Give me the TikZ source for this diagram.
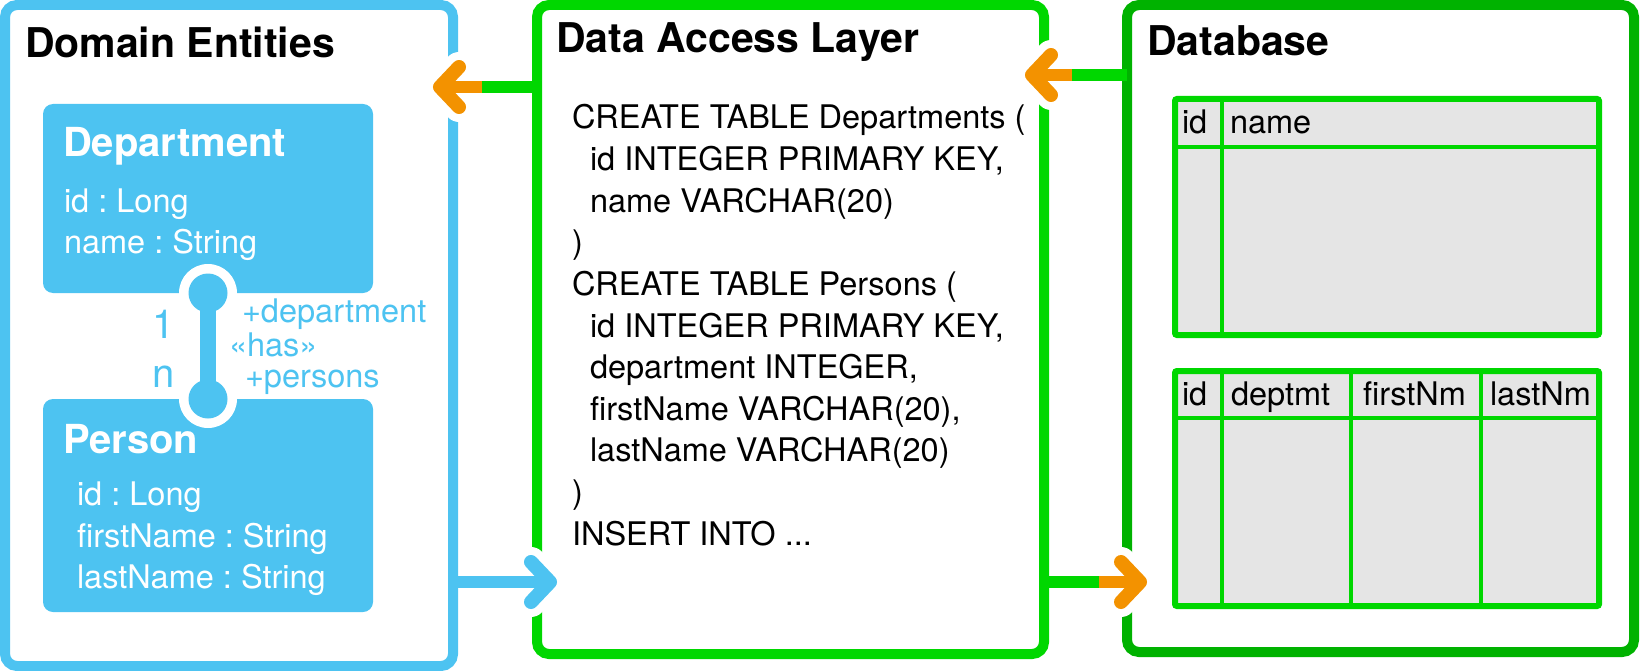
\documentclass[tikz,border=0pt]{standalone}
\usepackage{fontspec}
\setmainfont{TeX Gyre Heros}
\frenchspacing
\usetikzlibrary{positioning,calc}
\definecolor{entblue}{HTML}{4DC3F1}
\definecolor{dalgreen}{HTML}{00D700}
\definecolor{dbgreen}{HTML}{00B200}
\definecolor{flowor}{HTML}{F39200}
\definecolor{cellgray}{HTML}{E5E5E5}
\tikzset{
  every node/.style={
    inner sep=0pt,
    outer sep=0pt,
    anchor=base west,
  },
  panel/.style={draw, line width=10pt, rounded corners=12pt, anchor=north west},
  entity/.style={fill=entblue, rounded corners=10pt, anchor=north west,
    minimum width=330pt, minimum height=#1},
  dbtable/.style={draw=dalgreen, fill=cellgray, line width=6pt, rounded corners=2pt,
    anchor=north west, minimum width=424pt, minimum height=#1},
  cellline/.style={dalgreen, line width=4pt},
  title/.style={font=\fontsize{41}{48}\selectfont\bfseries},
  entname/.style={text=white, font=\fontsize{40}{46}\selectfont\bfseries},
  attr/.style={text=white, font=\fontsize{32.5}{40}\selectfont},
  role/.style={text=entblue, font=\fontsize{32.5}{40}\selectfont},
  mult/.style={text=entblue, font=\fontsize{40}{48}\selectfont, anchor=base},
  code/.style={font=\fontsize{32.5}{40}\selectfont},
  shaft/.style={line width=12pt},
  halo/.style={white, line width=30pt, line cap=round, line join=round},
  chev/.style={line width=14pt, line cap=round, line join=round},
}

\begin{document}
\begin{tikzpicture}[x=1pt, y=-1pt]
  \useasboundingbox (0,0) rectangle (1640,671);

  \node[panel, draw=entblue, minimum width=448pt, minimum height=661pt] (dom) at (5,5) {};
  \node[panel, draw=dalgreen, minimum width=507pt, minimum height=649pt] (dal) at (537,5) {};
  \node[panel, draw=dbgreen, minimum width=507pt, minimum height=647pt] (db) at (1127,5) {};

  \node[title] (domT) at (25,58) {Domain Entities};
  \node[title] (dalT) at (556,53) {Data Access Layer};
  \node[title] (dbT) at (1147,56) {Database};

  \node[entity=189pt] (dept) at (43,104) {};
  \node[entity=213pt] (pers) at (43,399) {};
  \node[entname] (deptN) at (63,157) {Department};
  \node[attr] (deptId) at (64,212) {id : Long};
  \node[attr] (deptName) at (64,253) {name : String};
  \node[entname] (persN) at (63,453) {Person};
  \node[attr] (persId) at (77,505) {id : Long};
  \node[attr] (persFirst) at (77,547) {firstName : String};
  \node[attr] (persLast) at (77,588) {lastName : String};

  \fill[white] (dept.south) circle (29pt) (pers.north) circle (29pt);
  \draw[entblue, line width=16pt] (dept.south) -- (pers.north);
  \fill[entblue] (dept.south) circle (19.5pt) (pers.north) circle (19.5pt);
  \node[mult] (one) at (164,338) {1};
  \node[mult] (many) at (164,387) {n};
  \node[role] (roleDept) at (242,322) {+department};
  \node[role] (roleHas) at (229,356) {«has»};
  \node[role] (rolePers) at (245,387) {+persons};

  \foreach \dx/\txt [count=\i from 0] in {0/{CREATE TABLE Departments (},
      18/{id INTEGER PRIMARY KEY,}, 18/{name VARCHAR(20)}, 0/{)},
      0/{CREATE TABLE Persons (}, 18/{id INTEGER PRIMARY KEY,},
      18/{department INTEGER,}, 18/{firstName VARCHAR(20),},
      18/{lastName VARCHAR(20)}, 0/{)}, 0/{INSERT INTO ...}}
    \node[code] (sql\i) at (572+\dx, 129+41.6*\i) {\txt};

  \node[dbtable=236pt] (deptT) at (1175,99) {};
  \draw[cellline] ($(deptT.north west)+(47,0)$) -- ($(deptT.south west)+(47,0)$);
  \draw[cellline] ($(deptT.north west)+(0,48)$) -- ($(deptT.north east)+(0,48)$);
  \node[code] (deptTid) at (1182,134) {id};
  \node[code] (deptTname) at (1230,134) {name};

  \node[dbtable=235pt] (persT) at (1175,371) {};
  \foreach \c in {47,176,306}
    \draw[cellline] ($(persT.north west)+(\c,0)$) -- ($(persT.south west)+(\c,0)$);
  \draw[cellline] ($(persT.north west)+(0,47)$) -- ($(persT.north east)+(0,47)$);
  \node[code] (persTid) at (1182,405) {id};
  \node[code] (persTdept) at (1231,405) {deptmt};
  \node[code] (persTfirst) at (1363,405) {firstNm};
  \node[code] (persTlast) at (1490,405) {lastNm};

  \coordinate (tipA) at (440,87);
  \coordinate (midA) at (482,87);
  \coordinate (tipB) at (1032,75);
  \coordinate (midB) at (1072,75);
  \coordinate (tipC) at (550,582);
  \coordinate (tipD) at (1140,582);
  \coordinate (midD) at (1099,582);

  \draw[halo] ($(tipA)+(19,-20)$) -- (tipA) -- ($(tipA)+(19,20)$);
  \draw[halo] ($(tipB)+(19,-20)$) -- (tipB) -- ($(tipB)+(19,20)$);
  \draw[halo] ($(tipC)+(-19,-20)$) -- (tipC) -- ($(tipC)+(-19,20)$);
  \draw[halo] ($(tipD)+(-19,-20)$) -- (tipD) -- ($(tipD)+(-19,20)$);

  \draw[shaft, dalgreen] (dal.west |- tipA) -- (midA);
  \draw[shaft, flowor] (midA) -- (tipA);
  \draw[shaft, dalgreen] (db.west |- tipB) -- (midB);
  \draw[shaft, flowor] (midB) -- (tipB);
  \draw[shaft, entblue] (dom.east |- tipC) -- (tipC);
  \draw[shaft, dalgreen] (dal.east |- tipD) -- (midD);
  \draw[shaft, flowor] (midD) -- (tipD);

  \draw[chev, flowor] ($(tipA)+(19,-20)$) -- (tipA) -- ($(tipA)+(19,20)$);
  \draw[chev, flowor] ($(tipB)+(19,-20)$) -- (tipB) -- ($(tipB)+(19,20)$);
  \draw[chev, entblue] ($(tipC)+(-19,-20)$) -- (tipC) -- ($(tipC)+(-19,20)$);
  \draw[chev, flowor] ($(tipD)+(-19,-20)$) -- (tipD) -- ($(tipD)+(-19,20)$);
\end{tikzpicture}
\end{document}
